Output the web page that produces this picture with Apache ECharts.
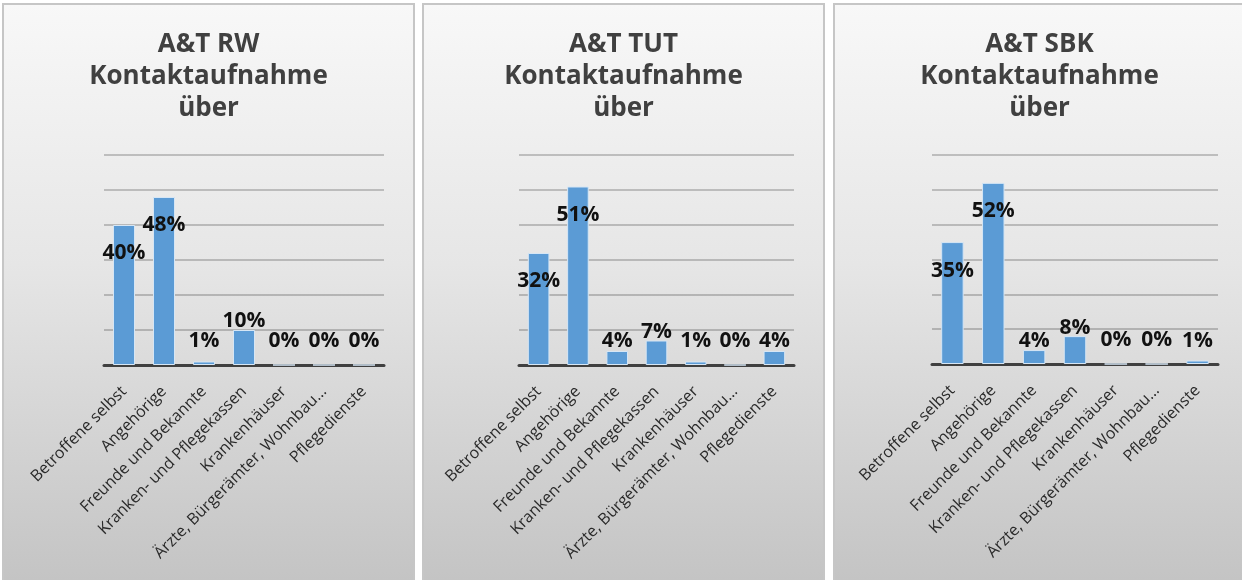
<!DOCTYPE html>
<html>
<head>
<meta charset="utf-8">
<script src="https://cdn.jsdelivr.net/npm/echarts@6/dist/echarts.min.js"></script>
<style>
  html, body { margin: 0; padding: 0; background: #ffffff; width: 1242px; height: 580px; overflow: hidden; }
  .panel { position: absolute; top: 3px; height: 577px; box-sizing: border-box;
           border: 2px solid #c6c6c6; border-bottom: none;
           background: linear-gradient(to bottom, #f8f8f8 0%, #e6e6e6 45%, #c4c4c4 100%); }
  .chart { position: absolute; left: 0; top: 0; width: 100%; height: 100%; }
</style>
</head>
<body>
<div class="panel" id="p1" style="left:2px; width:413px;"><div class="chart" id="c1"></div></div>
<div class="panel" id="p2" style="left:422px; width:403px;"><div class="chart" id="c2"></div></div>
<div class="panel" id="p3" style="left:833px; width:411px; border-right:none;"><div class="chart" id="c3"></div></div>
<script>
// ---- data ----
const categories = [
  "Betroffene selbst",
  "Angehörige",
  "Freunde und Bekannte",
  "Kranken- und Pflegekassen",
  "Krankenhäuser",
  "Ärzte, Bürgerämter, Wohnbau…",
  "Pflegedienste"
];
const titles = [
  "A&T RW\nKontaktaufnahme\nüber",
  "A&T TUT\nKontaktaufnahme\nüber",
  "A&T SBK\nKontaktaufnahme\nüber"
];
const valuesRW  = [40, 48, 1, 10, 0, 0, 0];
const valuesTUT = [32, 51, 4, 7, 1, 0, 4];
const valuesSBK = [35, 52, 4, 8, 0, 0, 1];
const yMin = 0, yMax = 60, yInterval = 10;

// ---- layout/style ----
const grids = [
  { left: 100, right: 29, top: 150, bottom: 215 },
  { left: 95, right: 29, top: 150, bottom: 215 },
  { left: 97, right: 26, top: 150, bottom: 216 }
];
const plotHeight = 210;

function labelFor(v) {
  const pxPerUnit = plotHeight / (yMax - yMin);
  if (v >= 20) {
    return { position: 'insideTop', distance: 18 };
  }
  return { position: 'top', distance: Math.max(-2, 13 - v * pxPerUnit) };
}

function makeOption(title, values, grid) {
  return {
    animation: false,
    backgroundColor: 'transparent',
    title: {
      text: title,
      left: 'center',
      top: 19,
      textStyle: {
        fontFamily: 'Open Sans', fontWeight: 'bold', fontSize: 26,
        lineHeight: 32, color: '#404040', align: 'center'
      }
    },
    grid: grid,
    xAxis: {
      type: 'category',
      data: categories,
      axisLine: { lineStyle: { color: '#404040', width: 3 } },
      axisTick: { show: false },
      axisLabel: {
        interval: 0, rotate: 45, margin: 24,
        fontFamily: 'Open Sans', fontSize: 16, color: '#2a2a2a'
      }
    },
    yAxis: {
      type: 'value', min: yMin, max: yMax, interval: yInterval,
      axisLabel: { show: false },
      axisLine: { show: false },
      axisTick: { show: false },
      splitLine: { lineStyle: { color: 'rgba(0,0,0,0.2)', width: 2 } }
    },
    series: [{
      type: 'bar',
      barCategoryGap: '45%',
      data: values.map(v => ({ value: v, label: labelFor(v) })),
      itemStyle: { color: '#5b9bd5', borderColor: '#d6e6f5', borderWidth: 1 },
      label: {
        show: true,
        formatter: '{c}%',
        fontFamily: 'Open Sans', fontWeight: 'bold', fontSize: 21,
        color: '#111111'
      }
    }]
  };
}

const all = [valuesRW, valuesTUT, valuesSBK];
['c1', 'c2', 'c3'].forEach((id, i) => {
  const chart = echarts.init(document.getElementById(id), null, { renderer: 'canvas' });
  chart.setOption(makeOption(titles[i], all[i], grids[i]));
});
</script>
</body>
</html>
